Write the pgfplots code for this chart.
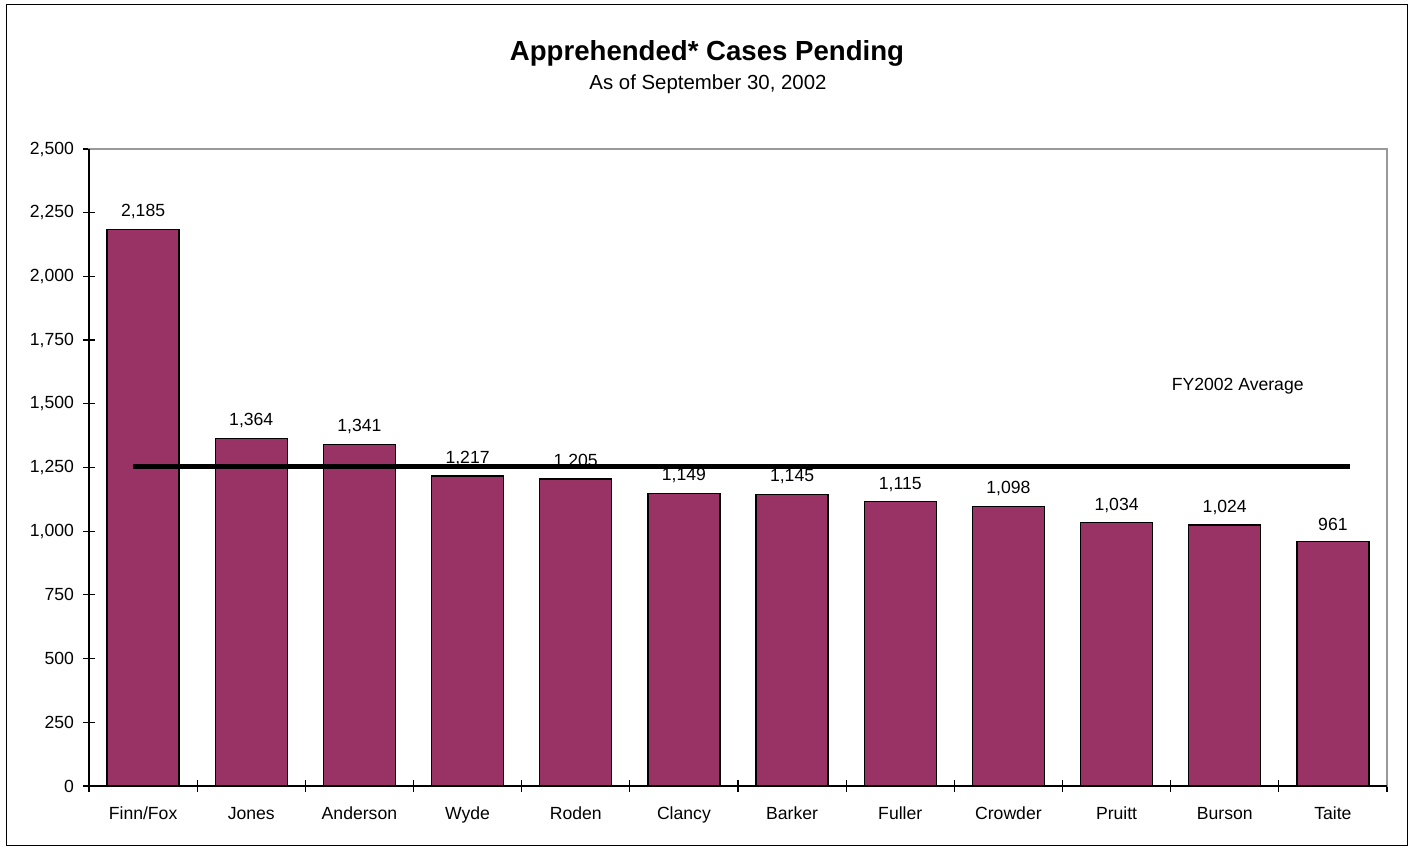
\documentclass[border=0pt]{standalone}
\usepackage{pgfplots}
\pgfplotsset{compat=1.18}
\usepackage{fontspec}
\setmainfont{Liberation Sans}
\definecolor{barcol}{HTML}{993366}

\begin{document}
\begin{tikzpicture}[x=1pt,y=1pt]
    % page frame
    \path[use as bounding box] (0,0) rectangle (705,423);
    \draw[black, line width=0.6pt] (3.3,0.4) rectangle (703.6,420.6);
    \node[font=\fontsize{13.8}{16}\selectfont\bfseries] at (353.5,396.5) {Apprehended* Cases Pending};
    \node[font=\fontsize{10.2}{12}\selectfont] at (354,381) {As of September 30, 2002};

    \begin{axis}[
        at={(44.5pt,30pt)}, anchor=south west,
        scale only axis,
        width=649pt, height=318.5pt,
        xmin=-0.5, xmax=11.5,
        ymin=0, ymax=2500,
        ytick={0,250,...,2500},
        xtick={0,...,11},
        xticklabels={Finn/Fox, Jones, Anderson, Wyde, Roden, Clancy, Barker, Fuller, Crowder, Pruitt, Burson, Taite},
        minor xtick={-0.5,0.5,...,11.5},
        major x tick style={draw=none},
        minor tick length=6pt,
        major tick length=6pt,
        tick align=center,
        xtick pos=left, ytick pos=left,
        tick style={black, line width=0.6pt},
        minor tick style={black, line width=0.6pt},
        axis line style={gray!80, line width=0.8pt},
        ticklabel style={font=\fontsize{8.8}{10}\selectfont},
        /pgf/number format/assume math mode=true,
        /pgf/number format/1000 sep={,},
        scaled y ticks=false,
        xticklabel style={yshift=-4pt},
        yticklabel style={xshift=-1pt},
        clip=false,
    ]
    \addplot[ybar, bar width=36pt, fill=barcol, draw=black, line width=0.6pt,
        nodes near coords,
        nodes near coords style={font=\fontsize{8.8}{10}\selectfont, black, yshift=1.5pt, /pgf/number format/1000 sep={,}, /pgf/number format/assume math mode=true},
    ] coordinates {
        (0,2185) (1,1364) (2,1341) (3,1217) (4,1205) (5,1149)
        (6,1145) (7,1115) (8,1098) (9,1034) (10,1024) (11,961)
    };
    % FY2002 average line
    \addplot[black, line width=2.2pt] coordinates {(-0.09,1254) (11.16,1254)};
    \node[font=\fontsize{8.8}{10}\selectfont] at (axis cs:10.12,1570) {FY2002 Average};
    \end{axis}
    % black left and bottom axis lines
    \draw[black, line width=0.6pt] (44.5,348.5) -- (44.5,30) -- (693.5,30);
\end{tikzpicture}
\end{document}
